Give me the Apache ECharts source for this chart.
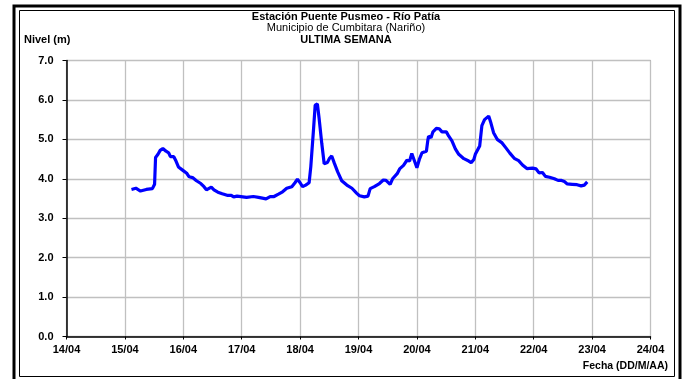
<!DOCTYPE html>
<html><head><meta charset="utf-8">
<script src="https://cdn.jsdelivr.net/npm/echarts@6/dist/echarts.min.js"></script>
<style>html,body{margin:0;padding:0;background:#fff}#c{width:692px;height:379px}</style>
</head><body><div id="c"></div>
<script>
// Tick labels
const dayLabels = ['14/04','15/04','16/04','17/04','18/04','19/04','20/04','21/04','22/04','23/04','24/04'];
const yTickMax = 7;
// Hours since 14/04 00:00
const hours = [
 26.7,28.5,30.4,32.8,35.3,36.2,36.6,37.6,38.5,39.6,40.9,42.0,42.7,44.1,45.0,46.0,47.7,
 49.4,50.4,51.8,53.4,55.2,56.5,57.5,58.3,59.5,60.6,62.2,64.0,66.0,67.7,68.7,70.1,
 74.0,76.8,78.9,80.5,82.0,83.7,85.3,87.1,88.8,90.5,92.6,93.9,94.9,
 96.0,97.0,98.3,99.7,100.4,101.5,102.2,103.1,103.8,104.9,105.9,107.2,108.1,109.0,110.1,111.4,113.1,115.2,117.3,119.3,120.4,
 122.4,123.9,124.8,126.5,128.6,130.2,131.3,133.0,134.0,135.9,136.9,138.5,139.9,141.0,141.9,142.9,
 144.0,145.0,146.1,147.9,148.5,148.8,149.8,150.6,152.0,153.2,154.3,156.1,157.1,158.4,159.8,161.2,163.3,165.3,166.3,167.4,
 168.0,169.8,170.7,171.8,173.5,174.4,175.5,177.0,179.0,180.5,182.2,184.0,185.8,187.4,189.2,191.5,
 193.0,194.2,195.6,196.8,198.5,200.5,202.0,203.2,204.6,205.8,207.8,209.8,211.5,212.8,214.0
];
// Water level (m)
const levels = [
 3.73,3.76,3.69,3.73,3.75,3.86,4.54,4.62,4.72,4.77,4.70,4.66,4.56,4.56,4.45,4.30,4.22,
 4.14,4.05,4.03,3.95,3.88,3.80,3.72,3.76,3.79,3.72,3.66,3.62,3.58,3.58,3.54,3.56,
 3.53,3.55,3.53,3.51,3.49,3.55,3.55,3.61,3.67,3.76,3.80,3.90,3.99,
 3.90,3.80,3.84,3.90,4.31,5.24,5.87,5.90,5.54,4.90,4.38,4.41,4.52,4.58,4.39,4.18,3.95,3.84,3.76,3.63,3.57,
 3.54,3.56,3.75,3.80,3.88,3.97,3.96,3.86,4.00,4.13,4.25,4.34,4.47,4.45,4.64,4.47,
 4.28,4.49,4.66,4.70,4.98,5.08,5.04,5.19,5.28,5.27,5.19,5.19,5.08,4.96,4.76,4.62,4.51,4.45,4.41,4.49,
 4.62,4.83,5.35,5.50,5.59,5.42,5.17,5.00,4.91,4.79,4.65,4.52,4.46,4.35,4.26,4.27,
 4.25,4.15,4.16,4.06,4.04,4.00,3.96,3.96,3.93,3.87,3.86,3.85,3.82,3.84,3.92
];
</script>
<script>
const pts = hours.map((h, i) => [h, levels[i]]);
const FF = 'Liberation Sans, Arial, sans-serif';
const chart = echarts.init(document.getElementById('c'));
const tStyle = (w) => ({fontFamily: FF, fontSize: 11, lineHeight: 11, fontWeight: w, color: '#000'});
chart.setOption({
  animation: false,
  backgroundColor: '#fff',
  title: [
    {text: 'Estación Puente Pusmeo - Río Patía', left: 346, top: 11, padding: 0, textAlign: 'center', textStyle: tStyle('bold')},
    {text: 'Municipio de Cumbitara (Nariño)', left: 346, top: 22.5, padding: 0, textAlign: 'center', textStyle: tStyle('normal')},
    {text: 'ULTIMA SEMANA', left: 346, top: 34, padding: 0, textAlign: 'center', textStyle: tStyle('bold')}
  ],
  graphic: [
    {type: 'rect', shape: {x: 14, y: 6, width: 666, height: 380}, style: {fill: 'none', stroke: '#000', lineWidth: 3}, silent: true},
    {type: 'rect', shape: {x: 19.5, y: 10.5, width: 655, height: 366}, style: {fill: 'none', stroke: '#000', lineWidth: 1}, silent: true},
    {type: 'text', left: 24, top: 34, style: {text: 'Nivel (m)', fontFamily: FF, fontSize: 11, fontWeight: 'bold', fill: '#000'}},
    {type: 'text', right: 24, top: 361, style: {text: 'Fecha (DD/M/AA)', fontFamily: FF, fontSize: 10.5, fontWeight: 'bold', fill: '#000'}}
  ],
  grid: {left: 66.5, right: 41.5, top: 60.5, bottom: 42.5, show: true, borderColor: '#808080', borderWidth: 1},
  xAxis: {
    type: 'value', min: 0, max: 240, interval: 24,
    axisLine: {show: true, lineStyle: {color: '#000', width: 1.5}},
    axisTick: {show: true, length: 3, lineStyle: {color: '#000'}},
    axisLabel: {formatter: v => dayLabels[Math.round(v / 24)], fontFamily: FF, fontSize: 11, fontWeight: 'bold', color: '#000', margin: 8},
    splitLine: {show: true, lineStyle: {color: '#c0c0c0', width: 1.3}}
  },
  yAxis: {
    type: 'value', min: 0, max: yTickMax, interval: 1,
    axisLine: {show: true, lineStyle: {color: '#000', width: 1.5}},
    axisTick: {show: true, length: 4, lineStyle: {color: '#000'}},
    axisLabel: {formatter: v => v.toFixed(1), fontFamily: FF, fontSize: 11, fontWeight: 'bold', color: '#000', margin: 13},
    splitLine: {show: true, lineStyle: {color: '#c0c0c0', width: 1.3}}
  },
  series: [{
    type: 'line', data: pts, showSymbol: false, symbol: 'none',
    lineStyle: {color: '#0000ff', width: 3.2}, z: 5
  }]
});
</script>
</body></html>
